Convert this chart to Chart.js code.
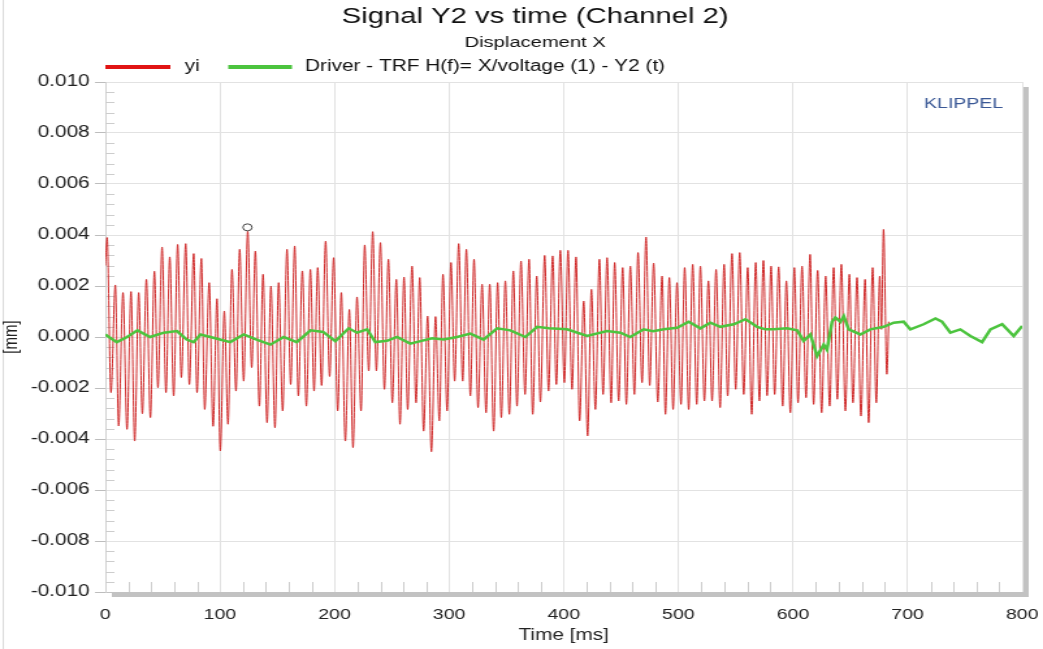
<!DOCTYPE html>
<html>
<head>
<meta charset="utf-8">
<title>Signal Y2 vs time (Channel 2)</title>
<script src="https://cdn.jsdelivr.net/npm/chart.js@4.4.1/dist/chart.umd.min.js"></script>
<style>
  html, body { margin: 0; padding: 0; background: #fff; overflow: hidden; }
</style>
</head>
<body>
<!-- canvas is drawn narrow and stretched wide, like the exported KLIPPEL plot -->
<canvas id="chart" width="802" height="649" style="display:block;width:1043px;height:649px"></canvas>
<script>
// yi: turning points of the measured signal (time in ms, value in µm)
const yiTime = [0, 1.5, 4.9, 8.7, 11.6, 15.4, 18.9, 22.4, 25.6, 29.1,
    32.3, 35.8, 39.3, 42.8, 45.9, 49.5, 52.9, 56.2, 59.6, 63.1,
    66.3, 70.1, 73.3, 77.1, 80.0, 83.8, 86.7, 90.6, 94.0, 97.4,
    100.3, 103.8, 107.0, 110.5, 114.0, 117.2, 120.7, 124.2, 127.7, 130.9,
    134.4, 137.6, 141.1, 144.5, 148.0, 151.2, 154.7, 158.5, 161.7, 165.2,
    168.4, 171.9, 175.4, 178.9, 182.1, 185.3, 188.7, 192.2, 195.7, 199.2,
    202.7, 205.9, 209.4, 212.9, 216.1, 219.6, 223.1, 226.3, 229.8, 233.3,
    236.5, 240.0, 243.5, 247.0, 250.4, 253.9, 257.1, 260.6, 263.8, 267.6,
    271.1, 274.3, 277.7, 281.2, 284.5, 288.1, 291.4, 294.6, 298.2, 301.6,
    304.8, 308.3, 311.8, 315.0, 318.5, 321.7, 325.2, 328.7, 332.2, 335.4,
    338.8, 342.3, 345.5, 349.0, 352.5, 356.0, 359.2, 362.7, 366.2, 369.7,
    372.9, 376.4, 379.6, 383.3, 386.7, 390.3, 393.5, 397.0, 400.5, 403.7,
    407.2, 410.7, 413.8, 417.4, 420.8, 424.1, 427.6, 431.1, 434.3, 437.8,
    441.3, 444.4, 447.9, 451.4, 454.6, 458.1, 461.6, 464.8, 468.3, 471.8,
    475.0, 478.4, 482.0, 485.8, 488.7, 492.1, 495.4, 498.8, 502.3, 505.5,
    509.0, 512.5, 516.0, 519.2, 522.7, 526.2, 529.4, 532.9, 536.4, 539.9,
    543.0, 546.8, 550.0, 553.5, 557.0, 560.5, 564.0, 567.5, 570.7, 574.2,
    577.4, 580.9, 584.0, 587.5, 591.0, 594.2, 597.7, 601.2, 604.4, 607.9,
    611.4, 614.9, 618.0, 621.5, 625.0, 628.5, 632.0, 635.5, 638.7, 642.2,
    645.7, 649.2, 652.3, 655.9, 659.3, 662.9, 666.0, 669.5, 672.7, 675.7,
    677.2, 679.0, 681.9, 683.5];
const yiUm = [2.8, 3.9, -2.18, 2.04, -3.49, 1.74, -3.62, 1.78, -4.08, 1.74,
    -3.01, 2.26, -3.16, 2.58, -1.99, 3.53, -2.18, 3.14, -2.31, 3.63,
    -1.59, 3.66, -1.86, 3.27, -2.18, 3.08, -2.84, 2.13, -3.5, 1.5,
    -4.47, 1.02, -3.42, 2.65, -2.12, 3.44, -1.73, 4.15, -1.2, 3.37,
    -2.71, 2.46, -3.36, 2.0, -3.56, 2.13, -2.9, 3.44, -1.86, 3.57,
    -2.31, 2.59, -2.71, 2.65, -2.12, 2.72, -1.9, 3.76, -1.55, 3.11,
    -2.9, 1.74, -4.08, 1.08, -4.34, 1.57, -2.9, 3.61, -1.33, 4.13,
    -1.33, 3.7, -2.05, 3.05, -2.58, 2.26, -3.42, 2.35, -2.84, 2.78,
    -2.58, 2.33, -3.69, 0.82, -4.5, 0.8, -3.29, 2.46, -2.9, 2.92,
    -1.73, 3.66, -1.73, 3.44, -2.31, 3.05, -2.77, 2.07, -2.97, 2.07,
    -3.69, 2.13, -3.16, 2.2, -3.03, 2.59, -2.71, 2.98, -2.25, 3.05,
    -3.03, 2.39, -2.55, 3.2, -2.12, 3.18, -1.86, 3.4, -1.79, 3.4,
    -2.05, 3.14, -3.29, 1.41, -3.88, 1.87, -2.84, 3.05, -2.25, 3.11,
    -2.58, 2.92, -2.51, 2.72, -2.64, 2.78, -2.25, 3.31, -1.79, 3.92,
    -1.9, 2.9, -2.55, 2.39, -3.03, 2.33, -2.84, 2.13, -2.64, 2.72,
    -2.84, 2.85, -2.64, 2.78, -2.51, 2.2, -2.51, 2.65, -2.77, 2.85,
    -2.31, 3.27, -2.05, 3.31, -2.25, 2.72, -3.03, 2.92, -2.51, 3.0,
    -2.3, 2.78, -2.25, 2.75, -2.71, 2.2, -2.97, 2.72, -2.58, 2.78,
    -2.38, 3.24, -2.64, 2.61, -2.97, 2.39, -2.71, 2.72, -2.44, 2.85,
    -2.9, 2.46, -2.58, 2.33, -3.1, 2.26, -3.36, 2.72, -2.58, 2.39,
    0.3, 4.22, -1.46, 0.6];

// driver transfer function output (time in ms, value in µm)
const driverTime = [0, 1.5, 10, 19, 28, 39, 51, 62.5, 71, 77,
    83, 91.6, 100, 109, 120.7, 132, 144, 155.6, 167, 179,
    190, 200.7, 212.3, 219.6, 228.4, 235.6, 245.8, 254.5, 266, 275,
    285, 295.2, 306.9, 318.5, 330, 341.8, 353.4, 366.5, 376.7, 387,
    402.9, 420.3, 437.8, 449.4, 458, 469.7, 478, 487.2, 498.9, 509,
    519.2, 527.9, 536.6, 548.3, 558.5, 568.7, 576, 583.2, 594.8, 603.6,
    609.3, 615.2, 621, 626.8, 629.7, 634.1, 637, 641.4, 644.3, 648.6,
    658.8, 667.5, 674.8, 679.1, 687.9, 696.6, 702.4, 714, 724.3, 730,
    737.3, 746, 754.8, 765, 772.3, 782.5, 792.6, 800];
const driverUm = [0.1, 0.05, -0.2, 0.0, 0.26, 0.0, 0.17, 0.23, -0.1, -0.2,
    0.1, 0.0, -0.1, -0.2, 0.1, -0.1, -0.3, 0.0, -0.2, 0.26,
    0.2, -0.16, 0.34, 0.17, 0.3, -0.2, -0.15, 0.0, -0.26, -0.16,
    -0.05, -0.1, 0.0, 0.13, -0.1, 0.34, 0.26, 0.0, 0.4, 0.34,
    0.3, 0.04, 0.23, 0.17, 0.0, 0.3, 0.23, 0.3, 0.36, 0.6,
    0.34, 0.56, 0.4, 0.5, 0.7, 0.4, 0.3, 0.3, 0.34, 0.26,
    -0.15, 0.1, -0.75, -0.3, -0.5, 0.6, 0.76, 0.6, 0.82, 0.3,
    0.1, 0.3, 0.36, 0.4, 0.56, 0.6, 0.3, 0.5, 0.73, 0.6,
    0.17, 0.3, 0.04, -0.2, 0.3, 0.5, 0.04, 0.43];

// cursor marker placed on the yi peak
const cursorTime = [124];
const cursorUm = [4.3];

const yTicksMm = [-0.010, -0.008, -0.006, -0.004, -0.002, 0, 0.002, 0.004, 0.006, 0.008, 0.010];

const FONT = '"Liberation Sans", Arial, sans-serif';
const RED = 'rgb(208, 40, 40)';
const GREEN = 'rgb(76, 196, 62)';

function toPoints(times, um) {
    return times.map((t, i) => ({ x: t, y: um[i] / 1000 }));
}

const framePlugin = {
    id: 'frame',
    beforeDraw(chart) {
        const { ctx, chartArea: a } = chart;
        ctx.save();
        ctx.fillStyle = '#fff';
        ctx.fillRect(0, 0, chart.width, chart.height);
        ctx.fillStyle = '#dadada';
        ctx.fillRect(2, 0, 1, chart.height);
        // grey drop shadow behind the plot area
        ctx.fillStyle = '#c2c2c2';
        ctx.fillRect(a.left + 5, a.top + 5, a.right - a.left, a.bottom - a.top);
        ctx.fillStyle = '#fff';
        ctx.fillRect(a.left, a.top, a.right - a.left, a.bottom - a.top);
        ctx.restore();
    },
    beforeDatasetsDraw(chart) {
        // minor ticks inside the frame
        const { ctx, chartArea: a, scales: { x, y } } = chart;
        ctx.save();
        ctx.strokeStyle = '#cdcdcd';
        ctx.lineWidth = 1;
        ctx.beginPath();
        for (let i = 1; i < 40; i++) {
            if (i % 5 === 0) continue;
            const px = Math.round(x.getPixelForValue(i * 20)) + 0.5;
            ctx.moveTo(px, a.bottom);
            ctx.lineTo(px, a.bottom - 10);
        }
        for (let j = 1; j < 50; j++) {
            if (j % 5 === 0) continue;
            const py = Math.round(y.getPixelForValue(-0.01 + j * 0.0004)) + 0.5;
            ctx.moveTo(a.left, py);
            ctx.lineTo(a.left + 7, py);
        }
        ctx.stroke();
        ctx.restore();
    },
    afterDraw(chart) {
        const { ctx, chartArea: a } = chart;
        ctx.save();
        ctx.textBaseline = 'middle';
        ctx.fillStyle = '#111';
        ctx.textAlign = 'center';
        ctx.font = `22.5px ${FONT}`;
        ctx.fillText('Signal Y2 vs time (Channel 2)', 411.5, 17);
        ctx.font = `15.5px ${FONT}`;
        ctx.fillText('Displacement X', 411.5, 43);

        // legend
        ctx.textAlign = 'left';
        ctx.font = `16px ${FONT}`;
        ctx.fillStyle = 'rgb(225, 20, 20)';
        ctx.fillRect(81, 65, 50, 4);
        ctx.fillStyle = '#111';
        ctx.fillText('yi', 142, 67);
        ctx.fillStyle = GREEN;
        ctx.fillRect(175.5, 65, 49, 4);
        ctx.fillStyle = '#111';
        ctx.fillText('Driver - TRF H(f)= X/voltage (1) - Y2 (t)', 234.5, 67);

        ctx.textAlign = 'center';
        ctx.font = `15px ${FONT}`;
        ctx.fillStyle = 'rgb(58, 88, 150)';
        ctx.fillText('KLIPPEL', a.right - 45, a.top + 22);
        ctx.restore();
    }
};

const ctx = document.getElementById('chart').getContext('2d');

new Chart(ctx, {
    type: 'line',
    data: {
        datasets: [
            {
                label: 'yi',
                data: toPoints(yiTime, yiUm),
                borderColor: RED,
                borderWidth: 1,
                pointRadius: 0,
                cubicInterpolationMode: 'monotone',
                order: 2
            },
            {
                label: 'Driver - TRF H(f)= X/voltage (1) - Y2 (t)',
                data: toPoints(driverTime, driverUm),
                borderColor: GREEN,
                borderWidth: 2.5,
                pointRadius: 0,
                order: 1
            },
            {
                label: 'cursor',
                data: toPoints(cursorTime, cursorUm),
                showLine: false,
                pointRadius: 3.5,
                pointBorderWidth: 1,
                pointBorderColor: '#444',
                pointBackgroundColor: 'rgba(0,0,0,0)',
                order: 0
            }
        ]
    },
    options: {
        responsive: false,
        animation: false,
        events: [],
        layout: { padding: { top: 82, right: 16, bottom: 0, left: 0 } },
        plugins: {
            legend: { display: false },
            title: { display: false },
            tooltip: { enabled: false }
        },
        scales: {
            x: {
                type: 'linear',
                min: 0,
                max: 800,
                ticks: {
                    stepSize: 100,
                    padding: 14,
                    color: '#222',
                    font: { family: FONT, size: 15 }
                },
                grid: { color: '#e2e2e2', drawTicks: false },
                border: { color: '#c2c2c2' },
                title: {
                    display: true,
                    text: 'Time [ms]',
                    color: '#222',
                    font: { family: FONT, size: 16 },
                    padding: { top: 0, bottom: 4 }
                },
                afterFit(scale) {
                    scale.height = 57;
                    scale.paddingLeft = 0;
                    scale.paddingRight = 0;
                }
            },
            y: {
                min: -0.01,
                max: 0.01,
                afterBuildTicks(scale) {
                    scale.ticks = yTicksMm.map(v => ({ value: v }));
                },
                ticks: {
                    padding: 4,
                    color: '#222',
                    font: { family: FONT, size: 16 },
                    callback: v => (Math.abs(v) < 1e-9 ? 0 : v).toFixed(3)
                },
                grid: { color: '#e2e2e2', tickLength: 8, tickColor: '#bdbdbd' },
                border: { color: '#cfcfcf' },
                title: {
                    display: true,
                    text: '[mm]',
                    color: '#222',
                    font: { family: FONT, size: 15 },
                    padding: 0
                },
                afterFit(scale) { scale.width = 81; }
            }
        }
    },
    plugins: [framePlugin]
});
</script>
</body>
</html>
